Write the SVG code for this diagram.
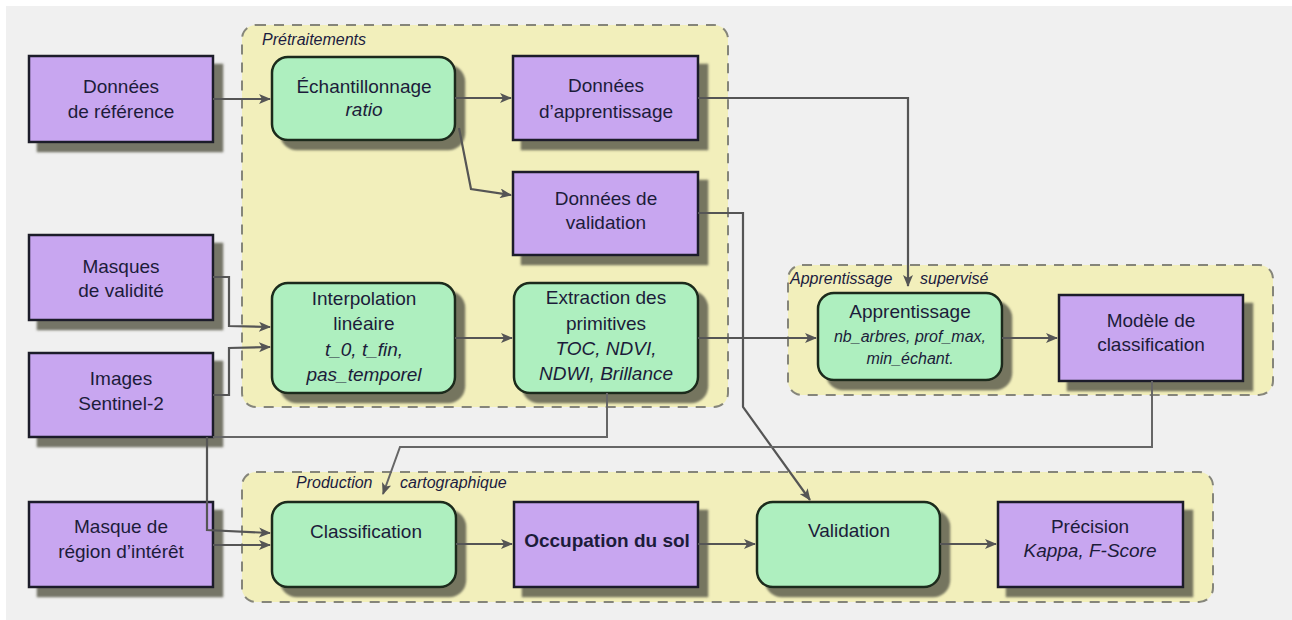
<svg xmlns="http://www.w3.org/2000/svg" width="1292" height="620" viewBox="0 0 1292 620">
<defs>
<style>
.bg{fill:#f0f0f0}
.grp{fill:#f2efbb;stroke:#85857a;stroke-width:2;stroke-dasharray:10 8}
.glab{font-family:"Liberation Sans",Arial,sans-serif;font-size:16px;font-style:italic;fill:#1c1c40}
.data{fill:#c8a6f0;stroke:#1a1a2a;stroke-width:2.5;filter:url(#sh)}
.proc{fill:#aeefbf;stroke:#1a2a1a;stroke-width:2.5;filter:url(#sh)}
.t{font-family:"Liberation Sans",Arial,sans-serif;font-size:19px;fill:#1c1c3a;text-anchor:middle}
.i{font-style:italic}
.b{font-weight:bold}
.s{font-size:16px}
.c{fill:none;stroke:#555;stroke-width:2.2}
.cl{fill:none;stroke:#666;stroke-width:2}
</style>
<filter id="sh" x="-10%" y="-10%" width="130%" height="140%">
<feDropShadow dx="9" dy="9" stdDeviation="1.2" flood-color="#5e5e50" flood-opacity="0.85"/>
</filter>
<marker id="ah" viewBox="0 0 12 10" refX="11" refY="5" markerWidth="12" markerHeight="10" markerUnits="userSpaceOnUse" orient="auto">
<path d="M0,0 L12,5 L0,10 L3,5 Z" fill="#555"/>
</marker>
</defs>
<rect x="6" y="6" width="1286" height="614" class="bg"/>

<g id="groups">
<g id="g-pretraitements">
<rect x="242" y="25" width="486" height="382" rx="14" class="grp"/>
<text x="262" y="45" class="glab">Prétraitements</text>
</g>
<g id="g-apprentissage">
<rect x="788" y="265" width="485" height="130" rx="14" class="grp"/>
<text y="284" class="glab"><tspan x="790">Apprentissage</tspan><tspan x="920">supervisé</tspan></text>
</g>
<g id="g-production">
<rect x="242" y="472" width="971" height="130" rx="14" class="grp"/>
<text y="488" class="glab"><tspan x="296">Production</tspan><tspan x="400">cartographique</tspan></text>
</g>
</g>

<g id="n-donnees-reference">
<rect x="29" y="56" width="184" height="86" class="data"/>
<text x="121" y="93" class="t">Données</text>
<text x="121" y="118" class="t">de référence</text>
</g>
<g id="n-masques-validite">
<rect x="29" y="235" width="184" height="85" class="data"/>
<text x="121" y="273" class="t">Masques</text>
<text x="121" y="297" class="t">de validité</text>
</g>
<g id="n-images-sentinel">
<rect x="29" y="353" width="184" height="84" class="data"/>
<text x="121" y="385" class="t">Images</text>
<text x="121" y="410" class="t">Sentinel-2</text>
</g>
<g id="n-masque-region">
<rect x="29" y="502" width="184" height="85" class="data"/>
<text x="121" y="533" class="t">Masque de</text>
<text x="121" y="558" class="t">région d’intérêt</text>
</g>
<g id="n-echantillonnage">
<rect x="272" y="57" width="183" height="83" rx="16" class="proc"/>
<text x="364" y="93" class="t">Échantillonnage</text>
<text x="364" y="116" class="t i">ratio</text>
</g>
<g id="n-donnees-apprentissage">
<rect x="513" y="56" width="185" height="84" class="data"/>
<text x="606" y="92" class="t">Données</text>
<text x="606" y="118" class="t">d’apprentissage</text>
</g>
<g id="n-donnees-validation">
<rect x="513" y="172" width="185" height="83" class="data"/>
<text x="606" y="205" class="t">Données de</text>
<text x="606" y="229" class="t">validation</text>
</g>
<g id="n-interpolation">
<rect x="272" y="283" width="183" height="110" rx="16" class="proc"/>
<text x="364" y="305" class="t">Interpolation</text>
<text x="364" y="330" class="t">linéaire</text>
<text x="364" y="356" class="t i">t_0, t_fin,</text>
<text x="364" y="381" class="t i">pas_temporel</text>
</g>
<g id="n-extraction">
<rect x="514" y="283" width="184" height="110" rx="16" class="proc"/>
<text x="606" y="304" class="t">Extraction des</text>
<text x="606" y="330" class="t">primitives</text>
<text x="606" y="355" class="t i">TOC, NDVI,</text>
<text x="606" y="380" class="t i">NDWI, Brillance</text>
</g>
<g id="n-apprentissage">
<rect x="818" y="293" width="184" height="87" rx="16" class="proc"/>
<text x="910" y="318" class="t">Apprentissage</text>
<text x="910" y="342" class="t i s">nb_arbres, prof_max,</text>
<text x="910" y="364" class="t i s">min_échant.</text>
</g>
<g id="n-modele">
<rect x="1059" y="295" width="184" height="86" class="data"/>
<text x="1151" y="327" class="t">Modèle de</text>
<text x="1151" y="351" class="t">classification</text>
</g>
<g id="n-classification">
<rect x="272" y="502" width="184" height="85" rx="16" class="proc"/>
<text x="366" y="538" class="t">Classification</text>
</g>
<g id="n-occupation">
<rect x="514" y="502" width="184" height="85" class="data"/>
<text x="607" y="547" class="t b">Occupation du sol</text>
</g>
<g id="n-validation">
<rect x="757" y="502" width="183" height="85" rx="16" class="proc"/>
<text x="849" y="537" class="t">Validation</text>
</g>
<g id="n-precision">
<rect x="998" y="502" width="185" height="85" class="data"/>
<text x="1090" y="533" class="t">Précision</text>
<text x="1090" y="557" class="t i">Kappa, F-Score</text>
</g>

<g id="connectors">
<path d="M213,99 H270" class="c" marker-end="url(#ah)"/>
<path d="M455,98 H511" class="c" marker-end="url(#ah)"/>
<path d="M459,128 L471,189 L511,195" class="c" marker-end="url(#ah)"/>
<path d="M698,98 H908 V286" class="c" marker-end="url(#ah)"/>
<path d="M698,213 H743 V407 L810,500" class="c" marker-end="url(#ah)"/>
<path d="M213,277 H229 V326 L270,327" class="c" marker-end="url(#ah)"/>
<path d="M213,395 H229 V348 L270,347" class="c" marker-end="url(#ah)"/>
<path d="M455,338 H512" class="c" marker-end="url(#ah)"/>
<path d="M698,338 H816" class="c" marker-end="url(#ah)"/>
<path d="M1002,338 H1057" class="c" marker-end="url(#ah)"/>
<path d="M607,393 V437 H213" class="cl"/>
<path d="M1152,381 V447 H400 L383,494" class="cl" marker-end="url(#ah)"/>
<path d="M207,437 V530 L270,533" class="c" marker-end="url(#ah)"/>
<path d="M213,545 H270" class="c" marker-end="url(#ah)"/>
<path d="M456,544 H512" class="c" marker-end="url(#ah)"/>
<path d="M698,544 H755" class="c" marker-end="url(#ah)"/>
<path d="M940,544 H996" class="c" marker-end="url(#ah)"/>
</g>
</svg>
